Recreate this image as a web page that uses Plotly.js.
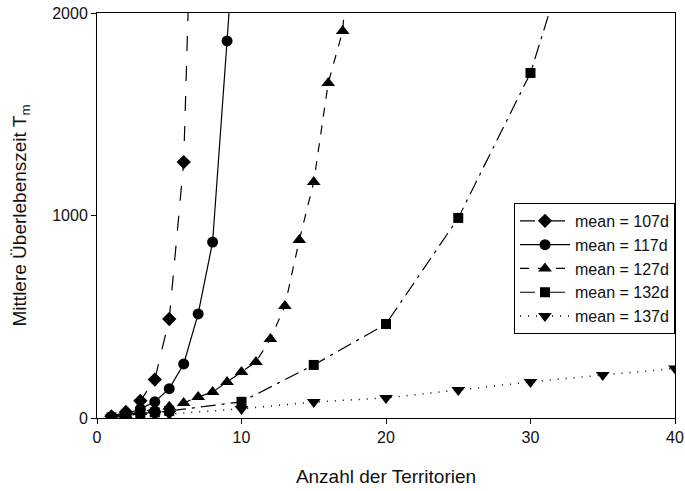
<!DOCTYPE html>
<html>
<head>
<meta charset="utf-8">
<script src="https://cdn.plot.ly/plotly-3.0.1.min.js"></script>
<style>html,body{margin:0;padding:0;background:#fff;}#chart{width:685px;height:491px;}</style>
</head>
<body>
<div id="chart"></div>
<script>
// Series data
const seriesNames = ["mean = 107d", "mean = 117d", "mean = 127d", "mean = 132d", "mean = 137d"];

const x107 = [1, 2, 3, 4, 5, 6, 7];
const y107 = [8, 30, 85, 190, 489, 1264, 3700];

const x117 = [1, 2, 3, 4, 5, 6, 7, 8, 9, 10];
const y117 = [6, 20, 45, 80, 145, 267, 514, 869, 1862, 2900];

const x127 = [1, 2, 3, 4, 5, 6, 7, 8, 9, 10, 11, 12, 13, 14, 15, 16, 17, 18];
const y127 = [5, 15, 30, 45, 55, 74, 104, 128, 178, 227, 277, 390, 553, 879, 1165, 1654, 1911, 2800];

const x132 = [1, 2, 3, 4, 5, 10, 15, 20, 25, 30, 35];
const y132 = [3, 10, 22, 28, 35, 80, 262, 464, 988, 1704, 2850];

const x137 = [1, 2, 3, 4, 5, 10, 15, 20, 25, 30, 35, 40];
const y137 = [2, 6, 12, 16, 20, 45, 79, 99, 138, 178, 212, 245];

const xTicks = [0, 10, 20, 30, 40];
const yTicks = [0, 1000, 2000];

const styles = [
  {dash: "longdash", width: 1.2, symbol: "diamond", size: 11},
  {dash: "solid", width: 1.2, symbol: "circle", size: 11},
  {dash: "dash", width: 1.2, symbol: "triangle-up", size: 12},
  {dash: "longdashdot", width: 1.2, symbol: "square", size: 10},
  {dash: "1px,7px", width: 1.5, symbol: "triangle-down", size: 12}
];

const xs = [x107, x117, x127, x132, x137];
const ys = [y107, y117, y127, y132, y137];

const traces = xs.map((x, i) => ({
  type: "scatter",
  mode: "lines+markers",
  name: seriesNames[i],
  x: x,
  y: ys[i],
  line: {color: "#000", width: styles[i].width, dash: styles[i].dash},
  marker: {color: "#000", symbol: styles[i].symbol, size: styles[i].size, line: {width: 0}},
  cliponaxis: true
}));

const fam = "Liberation Sans, Arial, sans-serif";
const txt = "#111";

const layout = {
  width: 685,
  height: 491,
  margin: {l: 97, r: 10, t: 13, b: 73},
  paper_bgcolor: "#fff",
  plot_bgcolor: "#fff",
  font: {family: fam, color: txt, size: 16},
  showlegend: true,
  legend: {
    x: 1, y: 0.531, xanchor: "right", yanchor: "top",
    bordercolor: "#000", borderwidth: 1, bgcolor: "#fff",
    font: {family: fam, size: 16, color: txt},
    itemwidth: 50,
    tracegroupgap: 0
  },
  xaxis: {
    range: [0, 40],
    tickvals: xTicks,
    ticktext: xTicks.map(String),
    showgrid: false, zeroline: false,
    showline: true, mirror: true, linecolor: "#000", linewidth: 1,
    ticks: "outside", ticklen: 5, tickcolor: "#000",
    tickfont: {family: fam, size: 16, color: txt},
    title: {text: "Anzahl der Territorien", font: {family: fam, size: 19, color: txt}, standoff: 24}
  },
  yaxis: {
    range: [0, 2000],
    tickvals: yTicks,
    ticktext: yTicks.map(String),
    showgrid: false, zeroline: false,
    showline: true, mirror: true, linecolor: "#000", linewidth: 1,
    ticks: "outside", ticklen: 5, tickcolor: "#000",
    tickfont: {family: fam, size: 16, color: txt},
    title: {text: "Mittlere Überlebenszeit T<sub>m</sub>", font: {family: fam, size: 19, color: txt}, standoff: 20}
  }
};

Plotly.newPlot("chart", traces, layout, {displayModeBar: false, staticPlot: true});
</script>
</body>
</html>
